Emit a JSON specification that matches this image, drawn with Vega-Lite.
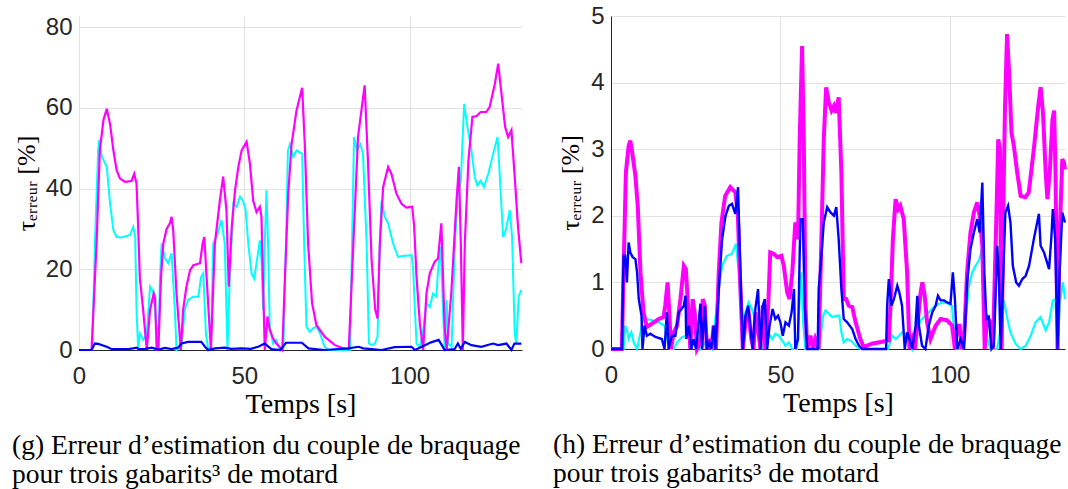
{
  "$schema": "https://vega.github.io/schema/vega-lite/v6.json",
  "background": "white",
  "padding": {"left": 12, "top": 4, "right": 2, "bottom": 5},
  "bounds": "flush",
  "spacing": 89,
  "config": {
    "view": {"stroke": null},
    "axis": {
      "labelFont": "Liberation Sans", "labelFontSize": 24, "labelColor": "#262626",
      "domainColor": "#262626", "domainWidth": 1, "gridColor": "#e2e2e2", "gridWidth": 1,
      "ticks": false, "titleFont": "Liberation Serif", "titleFontWeight": "normal",
      "titleColor": "#000000", "titleFontSize": 28
    }
  },
  "datasets": {
    "g_m": [
      {"t":0,"v":0},{"t":3.8,"v":0},{"t":5.3,"v":26},{"t":6.3,"v":49.5},{"t":7.4,"v":57},{"t":8.4,"v":59.8},{"t":9.4,"v":56},{"t":10.4,"v":49.5},{"t":11.4,"v":44.5},{"t":12.4,"v":42.5},{"t":13.9,"v":41.7},{"t":15.9,"v":41.9},{"t":16.7,"v":43.7},{"t":17.4,"v":41.3},{"t":17.9,"v":30.5},{"t":18.4,"v":18},{"t":19.4,"v":10},{"t":20.5,"v":0},{"t":21.5,"v":10},{"t":22.6,"v":14},{"t":23,"v":13},{"t":23.5,"v":0},{"t":24,"v":0},{"t":24.8,"v":18},{"t":25.5,"v":26.4},{"t":26.5,"v":30},{"t":27.5,"v":31.4},{"t":28,"v":33},{"t":28.5,"v":29.7},{"t":29.5,"v":14},{"t":30.8,"v":0},{"t":31.5,"v":10},{"t":32.5,"v":15.7},{"t":33.6,"v":19.8},{"t":34.6,"v":21},{"t":36.6,"v":21.5},{"t":37.4,"v":26.4},{"t":37.9,"v":28},{"t":38.6,"v":18},{"t":39.9,"v":0},{"t":41.1,"v":26.4},{"t":42.6,"v":37},{"t":43.6,"v":43},{"t":44.6,"v":34.7},{"t":45.3,"v":15.7},{"t":46.2,"v":30.5},{"t":47.2,"v":39.6},{"t":48.2,"v":45.4},{"t":49.2,"v":49.5},{"t":50.7,"v":51.6},{"t":51.7,"v":46.2},{"t":52.7,"v":37},{"t":53.7,"v":34.2},{"t":54.7,"v":35.5},{"t":55.2,"v":33},{"t":55.7,"v":15.7},{"t":56.2,"v":0},{"t":57,"v":8.3},{"t":57.7,"v":5},{"t":58.7,"v":2.9},{"t":59.7,"v":1.6},{"t":61.5,"v":0},{"t":62.3,"v":18},{"t":63.3,"v":38.8},{"t":64.3,"v":51},{"t":65.8,"v":59.4},{"t":67.5,"v":65},{"t":68.3,"v":51},{"t":69.3,"v":26.4},{"t":70.5,"v":11.6},{"t":71.8,"v":6.2},{"t":74.3,"v":3.3},{"t":77.4,"v":1.2},{"t":79.9,"v":0.4},{"t":81.6,"v":0.2},{"t":83,"v":26.4},{"t":84.4,"v":52.8},{"t":86.4,"v":65.6},{"t":87.4,"v":47},{"t":88.5,"v":22.3},{"t":89.6,"v":10},{"t":90.3,"v":7.8},{"t":91,"v":26.4},{"t":92,"v":40.4},{"t":93.5,"v":45.4},{"t":94.5,"v":43.7},{"t":96,"v":38.8},{"t":97.5,"v":36.3},{"t":99,"v":35.3},{"t":100.8,"v":35.5},{"t":101.4,"v":30.5},{"t":102.1,"v":18},{"t":103.1,"v":6.6},{"t":104.1,"v":0},{"t":105.1,"v":14},{"t":106.1,"v":19},{"t":107.6,"v":21.9},{"t":108.6,"v":22.7},{"t":109.6,"v":31.4},{"t":110.6,"v":5.8},{"t":111.2,"v":0},{"t":112.6,"v":14},{"t":114.2,"v":37},{"t":114.9,"v":45.4},{"t":115.5,"v":26.4},{"t":116.1,"v":0},{"t":116.7,"v":26.4},{"t":117.8,"v":47},{"t":119,"v":57.8},{"t":120.3,"v":58},{"t":121.5,"v":59},{"t":123.2,"v":59},{"t":124.2,"v":60.2},{"t":125.8,"v":66},{"t":126.8,"v":71},{"t":127.8,"v":63.5},{"t":128.9,"v":55.3},{"t":129.8,"v":52.8},{"t":130.8,"v":54.5},{"t":131.8,"v":42.9},{"t":132.8,"v":30.5},{"t":133.8,"v":21.5}
    ],
    "g_c": [
      {"t":0,"v":0},{"t":4,"v":0},{"t":4.8,"v":26},{"t":5.8,"v":49.5},{"t":6.1,"v":52},{"t":6.9,"v":47.9},{"t":8.4,"v":45.4},{"t":9.4,"v":36.3},{"t":10.4,"v":29.7},{"t":11.4,"v":28},{"t":12.9,"v":27.9},{"t":15.4,"v":28.5},{"t":16.4,"v":30.5},{"t":17,"v":28},{"t":17.4,"v":10},{"t":17.9,"v":0},{"t":18.4,"v":4.1},{"t":19.4,"v":2.5},{"t":20.5,"v":4.1},{"t":21.5,"v":15.7},{"t":22.5,"v":14.4},{"t":23.5,"v":5},{"t":24,"v":0.5},{"t":24.5,"v":18},{"t":25,"v":26.4},{"t":26,"v":22.7},{"t":27,"v":21.5},{"t":28,"v":24},{"t":29,"v":10},{"t":29.5,"v":0},{"t":31,"v":0.8},{"t":32,"v":10},{"t":33,"v":12.4},{"t":34.6,"v":13.2},{"t":36.1,"v":13.2},{"t":36.9,"v":18},{"t":37.6,"v":19},{"t":38.4,"v":4.1},{"t":39.1,"v":0},{"t":39.9,"v":0.8},{"t":40.6,"v":26.4},{"t":41.6,"v":28},{"t":43.1,"v":32.2},{"t":44.1,"v":26.4},{"t":44.9,"v":0},{"t":45.6,"v":18},{"t":46.7,"v":36.3},{"t":47.7,"v":35.5},{"t":48.7,"v":38},{"t":49.6,"v":37},{"t":50.4,"v":34.7},{"t":51.2,"v":26.4},{"t":52.2,"v":19},{"t":53,"v":17.7},{"t":53.7,"v":21.5},{"t":54.7,"v":27.2},{"t":55.2,"v":22.3},{"t":55.7,"v":10},{"t":56.2,"v":26.4},{"t":56.7,"v":39.6},{"t":57.2,"v":26.4},{"t":57.7,"v":5.8},{"t":58.7,"v":1.6},{"t":59.7,"v":2.4},{"t":60.8,"v":0},{"t":61.8,"v":0.4},{"t":62.6,"v":26.4},{"t":63.2,"v":49.5},{"t":63.8,"v":51},{"t":64.8,"v":47.9},{"t":65.8,"v":49.5},{"t":66.8,"v":49},{"t":67.5,"v":48.7},{"t":68.1,"v":26.4},{"t":68.8,"v":5.8},{"t":69.8,"v":4.5},{"t":70.8,"v":5.4},{"t":71.8,"v":5.8},{"t":72.9,"v":4.1},{"t":74.3,"v":0.8},{"t":75.4,"v":0},{"t":82,"v":0},{"t":82.4,"v":18},{"t":83.2,"v":52.8},{"t":84.1,"v":49.5},{"t":85.1,"v":51},{"t":85.9,"v":48.7},{"t":87,"v":26.4},{"t":87.7,"v":1.6},{"t":88.5,"v":1.2},{"t":89.5,"v":1.6},{"t":90.3,"v":3.3},{"t":91,"v":26.4},{"t":91.5,"v":37},{"t":92.5,"v":33},{"t":93.5,"v":31.4},{"t":95,"v":26.4},{"t":96.5,"v":23.1},{"t":98,"v":23.3},{"t":100.6,"v":23.5},{"t":101.1,"v":19.8},{"t":101.6,"v":10},{"t":102.1,"v":1.6},{"t":103.1,"v":0.8},{"t":104.1,"v":5},{"t":105.1,"v":11.6},{"t":106.1,"v":10.7},{"t":107.1,"v":14},{"t":108.1,"v":13.2},{"t":108.6,"v":19.8},{"t":109.4,"v":25.6},{"t":110.1,"v":10},{"t":110.6,"v":0},{"t":111.2,"v":12.4},{"t":111.7,"v":1.6},{"t":112.7,"v":0.8},{"t":113.7,"v":26.4},{"t":114.5,"v":38},{"t":115.5,"v":42},{"t":116.5,"v":61},{"t":117.5,"v":55.3},{"t":118.7,"v":49.5},{"t":119.7,"v":42.9},{"t":120.5,"v":40.8},{"t":121.5,"v":42},{"t":122.5,"v":40.4},{"t":123.8,"v":43.7},{"t":125.3,"v":48.7},{"t":126.6,"v":52.8},{"t":127.3,"v":42.9},{"t":128.3,"v":28},{"t":129.1,"v":29.7},{"t":130.3,"v":34.7},{"t":131,"v":28},{"t":131.8,"v":4.1},{"t":132.3,"v":1.6},{"t":133,"v":13.2},{"t":133.8,"v":14.9}
    ],
    "g_b": [
      {"t":0,"v":0},{"t":3.8,"v":0},{"t":4.8,"v":1.6},{"t":5.8,"v":1.5},{"t":8.4,"v":0.8},{"t":9.9,"v":0.2},{"t":15,"v":0.2},{"t":17.5,"v":0.6},{"t":18,"v":0.2},{"t":20,"v":0.3},{"t":22,"v":0.6},{"t":24,"v":0.1},{"t":26,"v":0.5},{"t":28,"v":0.2},{"t":30,"v":0.6},{"t":31,"v":1.6},{"t":33,"v":2},{"t":37,"v":2},{"t":38.1,"v":0.8},{"t":39.1,"v":0},{"t":41.1,"v":0.4},{"t":44.1,"v":0.6},{"t":46,"v":0.3},{"t":49.2,"v":0.4},{"t":52,"v":0.3},{"t":54.2,"v":0.8},{"t":56.2,"v":1.6},{"t":58.2,"v":0.2},{"t":60.9,"v":0},{"t":62.6,"v":1.8},{"t":67.4,"v":1.8},{"t":69.4,"v":0.4},{"t":74.3,"v":0},{"t":81.4,"v":0.4},{"t":84.6,"v":0.8},{"t":86,"v":0.4},{"t":88.5,"v":0.2},{"t":91.5,"v":0},{"t":95.5,"v":0.7},{"t":100.6,"v":0.8},{"t":101.6,"v":0},{"t":103.7,"v":0.8},{"t":106.5,"v":1.9},{"t":108.8,"v":2.5},{"t":110.6,"v":0},{"t":113.6,"v":0.2},{"t":114.6,"v":1.6},{"t":115.5,"v":0.3},{"t":116.7,"v":2},{"t":118.7,"v":1.2},{"t":121.7,"v":0.8},{"t":125.2,"v":1.6},{"t":126.8,"v":1.2},{"t":129.3,"v":1.6},{"t":130.8,"v":0},{"t":131.7,"v":1.6},{"t":133.8,"v":1.6}
    ],
    "h_m": [
      {"t":0,"v":0},{"t":3.2,"v":0},{"t":3.7,"v":1.15},{"t":4.4,"v":2.65},{"t":5.2,"v":3.05},{"t":5.7,"v":3.13},{"t":6.4,"v":2.9},{"t":7.2,"v":2.6},{"t":7.9,"v":2.15},{"t":8.7,"v":1.15},{"t":9.6,"v":0.55},{"t":10.6,"v":0.33},{"t":12.1,"v":0.38},{"t":14.1,"v":0.45},{"t":15.5,"v":0.48},{"t":16,"v":0.65},{"t":16.7,"v":1.0},{"t":17.2,"v":0.55},{"t":17.7,"v":0},{"t":18.5,"v":0.25},{"t":19.5,"v":0.35},{"t":20.5,"v":0.75},{"t":21.5,"v":1.25},{"t":22.1,"v":1.2},{"t":23,"v":0.4},{"t":23.4,"v":0},{"t":24.1,"v":0.75},{"t":24.7,"v":0.55},{"t":25.4,"v":0},{"t":26.4,"v":0.1},{"t":27.1,"v":0.75},{"t":27.7,"v":0.65},{"t":28.3,"v":0},{"t":29,"v":0.15},{"t":29.6,"v":0},{"t":30.3,"v":0.35},{"t":31,"v":0},{"t":31.8,"v":1.15},{"t":32.6,"v":1.9},{"t":33.7,"v":2.3},{"t":35.2,"v":2.43},{"t":36.7,"v":2.35},{"t":37.4,"v":2.05},{"t":38.2,"v":0.9},{"t":38.9,"v":0},{"t":39.7,"v":0.4},{"t":40.5,"v":0.6},{"t":41.4,"v":0.15},{"t":42.1,"v":0},{"t":42.6,"v":0.55},{"t":43.4,"v":0.3},{"t":44.1,"v":0},{"t":44.8,"v":0.65},{"t":45.6,"v":0},{"t":46.4,"v":0.65},{"t":47,"v":1.45},{"t":48,"v":1.43},{"t":49,"v":1.38},{"t":50.3,"v":1.4},{"t":51,"v":1.25},{"t":52,"v":0.85},{"t":52.7,"v":0.75},{"t":53.5,"v":1.15},{"t":54.4,"v":1.9},{"t":55.2,"v":1.65},{"t":55.7,"v":3.15},{"t":56.4,"v":4.55},{"t":56.9,"v":3.15},{"t":57.4,"v":0.65},{"t":57.9,"v":0},{"t":58.9,"v":0.2},{"t":59.6,"v":0},{"t":60.3,"v":0.15},{"t":61.3,"v":0},{"t":62.1,"v":1.65},{"t":62.8,"v":3.15},{"t":63.5,"v":3.93},{"t":64.3,"v":3.7},{"t":65.1,"v":3.58},{"t":65.8,"v":3.65},{"t":66.4,"v":3.55},{"t":67.2,"v":3.78},{"t":68,"v":2.65},{"t":68.7,"v":0.75},{"t":69.4,"v":0.75},{"t":70.2,"v":0.65},{"t":71.2,"v":0.63},{"t":72.2,"v":0.4},{"t":73.6,"v":0.15},{"t":74.6,"v":0.03},{"t":77,"v":0.08},{"t":80,"v":0.11},{"t":82,"v":0.13},{"t":82.5,"v":0.65},{"t":83.2,"v":1.65},{"t":84,"v":2.25},{"t":84.8,"v":2.1},{"t":85.4,"v":2.15},{"t":86.4,"v":1.95},{"t":87.4,"v":1.15},{"t":88.1,"v":0},{"t":88.9,"v":0.15},{"t":89.7,"v":0},{"t":90.7,"v":0.5},{"t":91.4,"v":0.85},{"t":91.9,"v":1.0},{"t":92.6,"v":0.8},{"t":93.3,"v":0.4},{"t":94.3,"v":0.15},{"t":95.8,"v":0.35},{"t":97.3,"v":0.45},{"t":99.2,"v":0.43},{"t":100.7,"v":0.35},{"t":101.5,"v":0},{"t":102.2,"v":0.35},{"t":102.9,"v":0.35},{"t":103.5,"v":0},{"t":104.2,"v":0.15},{"t":105.1,"v":1.15},{"t":106.1,"v":1.75},{"t":107.1,"v":2.05},{"t":108.1,"v":2.2},{"t":108.8,"v":2.0},{"t":109.6,"v":1.55},{"t":110.3,"v":0},{"t":111,"v":0.48},{"t":112,"v":0.4},{"t":112.7,"v":0},{"t":113.7,"v":1.9},{"t":114.3,"v":3.15},{"t":114.8,"v":3.0},{"t":115.3,"v":0},{"t":115.8,"v":2.15},{"t":116.3,"v":3.65},{"t":116.9,"v":4.73},{"t":117.5,"v":4.15},{"t":118.2,"v":3.25},{"t":118.9,"v":3.05},{"t":119.9,"v":2.65},{"t":120.9,"v":2.3},{"t":122.3,"v":2.28},{"t":123.3,"v":2.35},{"t":124.8,"v":3.0},{"t":126.1,"v":3.65},{"t":126.8,"v":3.93},{"t":127.5,"v":3.55},{"t":128.3,"v":2.65},{"t":128.8,"v":2.25},{"t":129.5,"v":2.65},{"t":130.3,"v":3.45},{"t":130.8,"v":3.58},{"t":131.2,"v":2.65},{"t":131.8,"v":0},{"t":132.4,"v":1.65},{"t":133.2,"v":2.85},{"t":133.7,"v":2.8},{"t":134,"v":2.7}
    ],
    "h_b": [
      {"t":0,"v":0},{"t":3.2,"v":0},{"t":3.7,"v":1.4},{"t":4.2,"v":1.4},{"t":4.7,"v":1.0},{"t":5.2,"v":1.6},{"t":5.7,"v":1.45},{"t":6.4,"v":1.38},{"t":7.2,"v":1.35},{"t":7.7,"v":1.15},{"t":8.2,"v":0.75},{"t":9,"v":0.5},{"t":9.3,"v":0},{"t":9.9,"v":0.35},{"t":10.6,"v":0.2},{"t":11.6,"v":0.23},{"t":13.1,"v":0.18},{"t":15,"v":0.15},{"t":15.8,"v":0},{"t":16.5,"v":0.55},{"t":17,"v":0},{"t":18,"v":0.2},{"t":19,"v":0.2},{"t":20,"v":0.55},{"t":20.8,"v":0.6},{"t":21.5,"v":0.65},{"t":22,"v":0.8},{"t":22.2,"v":0.15},{"t":23,"v":0.35},{"t":23.7,"v":0},{"t":24.4,"v":0.15},{"t":25.1,"v":0},{"t":26.4,"v":0.68},{"t":26.9,"v":0},{"t":27.7,"v":0.65},{"t":28.3,"v":0},{"t":29,"v":0.1},{"t":29.6,"v":0},{"t":30.3,"v":0.35},{"t":30.8,"v":0},{"t":31.8,"v":0.9},{"t":32.8,"v":1.65},{"t":33.8,"v":2.0},{"t":34.8,"v":2.15},{"t":35.7,"v":2.18},{"t":36.7,"v":2.03},{"t":37.5,"v":2.43},{"t":38.2,"v":1.15},{"t":38.9,"v":0},{"t":39.7,"v":0.5},{"t":40.5,"v":0.65},{"t":41.1,"v":0.35},{"t":41.8,"v":0},{"t":42.6,"v":0.6},{"t":43.4,"v":0.9},{"t":44.1,"v":0},{"t":44.8,"v":0.65},{"t":45.4,"v":0.75},{"t":46.1,"v":0},{"t":46.8,"v":0.35},{"t":47.7,"v":0.6},{"t":48.5,"v":0.45},{"t":49.3,"v":0.5},{"t":50,"v":0.4},{"t":50.7,"v":0.2},{"t":51.5,"v":0.4},{"t":52.5,"v":0.35},{"t":53.3,"v":0.55},{"t":54,"v":0.9},{"t":54.4,"v":0},{"t":55.2,"v":0.15},{"t":55.9,"v":1.95},{"t":56.6,"v":1.95},{"t":57.2,"v":0.65},{"t":57.9,"v":0},{"t":61,"v":0},{"t":61.3,"v":0.9},{"t":62.1,"v":1.4},{"t":62.8,"v":1.9},{"t":63.8,"v":2.13},{"t":64.8,"v":2.05},{"t":65.8,"v":2.0},{"t":66.5,"v":2.13},{"t":67.2,"v":1.65},{"t":68,"v":0.9},{"t":68.7,"v":0.45},{"t":69.7,"v":0.4},{"t":71.2,"v":0.3},{"t":72.2,"v":0.15},{"t":73.2,"v":0.05},{"t":74.1,"v":0},{"t":81.2,"v":0},{"t":81.5,"v":0.65},{"t":82,"v":1.05},{"t":82.8,"v":0.65},{"t":83.5,"v":0.75},{"t":84.5,"v":0.95},{"t":85.1,"v":0.85},{"t":85.9,"v":0.65},{"t":86.7,"v":0},{"t":87.4,"v":0.25},{"t":88.1,"v":0.15},{"t":88.9,"v":0},{"t":89.9,"v":0.35},{"t":90.4,"v":0.8},{"t":90.9,"v":0.35},{"t":91.8,"v":0.05},{"t":92.8,"v":0},{"t":93.8,"v":0.35},{"t":94.8,"v":0.55},{"t":95.8,"v":0.65},{"t":96.5,"v":0.8},{"t":97.3,"v":0.73},{"t":98.3,"v":0.73},{"t":99.2,"v":0.7},{"t":100.2,"v":0.68},{"t":100.9,"v":1.15},{"t":101.5,"v":0.75},{"t":102.2,"v":0},{"t":103.2,"v":0.15},{"t":104.2,"v":0},{"t":105.1,"v":1.0},{"t":106.1,"v":1.5},{"t":107.1,"v":1.75},{"t":108.1,"v":1.95},{"t":108.8,"v":1.75},{"t":109.6,"v":2.5},{"t":110.2,"v":1.15},{"t":110.8,"v":0.45},{"t":111.5,"v":0.48},{"t":112.3,"v":0},{"t":113,"v":0.05},{"t":114,"v":1.55},{"t":114.5,"v":1.05},{"t":115,"v":0},{"t":115.8,"v":1.15},{"t":116.4,"v":2.05},{"t":117.2,"v":2.15},{"t":117.9,"v":1.9},{"t":118.6,"v":1.25},{"t":119.6,"v":1.0},{"t":120.4,"v":0.95},{"t":121.4,"v":1.05},{"t":122.4,"v":1.1},{"t":123.4,"v":1.25},{"t":124.8,"v":1.65},{"t":126.3,"v":2.03},{"t":126.8,"v":1.55},{"t":127.8,"v":1.45},{"t":128.7,"v":1.3},{"t":129.3,"v":1.2},{"t":130,"v":1.7},{"t":130.4,"v":2.1},{"t":131.1,"v":1.65},{"t":131.8,"v":0},{"t":132.4,"v":1.15},{"t":133.2,"v":2.05},{"t":134,"v":1.9}
    ],
    "h_c": [
      {"t":0,"v":0},{"t":3.7,"v":0},{"t":4.2,"v":0.35},{"t":4.7,"v":0.28},{"t":5.2,"v":0.15},{"t":6,"v":0.25},{"t":6.7,"v":0.1},{"t":7.7,"v":0},{"t":8.7,"v":0.25},{"t":9.6,"v":0.48},{"t":10.6,"v":0.45},{"t":12.1,"v":0.43},{"t":14.1,"v":0.4},{"t":15.8,"v":0.35},{"t":16.5,"v":0.15},{"t":17.5,"v":0},{"t":18.5,"v":0},{"t":19.5,"v":0.1},{"t":21,"v":0.18},{"t":22.4,"v":0.2},{"t":23.4,"v":0.15},{"t":24.4,"v":0.25},{"t":25.4,"v":0.35},{"t":26.4,"v":0},{"t":27.9,"v":0.1},{"t":29.8,"v":0},{"t":31.8,"v":0.9},{"t":32.8,"v":1.25},{"t":34.2,"v":1.4},{"t":35.7,"v":1.43},{"t":36.9,"v":1.58},{"t":37.7,"v":1.15},{"t":38.7,"v":0.4},{"t":39.7,"v":0.55},{"t":40.6,"v":0.7},{"t":41.6,"v":0.6},{"t":42.6,"v":0.45},{"t":43.6,"v":0.35},{"t":44.6,"v":0},{"t":45.6,"v":0.15},{"t":46.6,"v":0.23},{"t":47.6,"v":0.15},{"t":48.5,"v":0.23},{"t":49.5,"v":0.2},{"t":50.5,"v":0.13},{"t":51.5,"v":0.05},{"t":52.5,"v":0.1},{"t":53.5,"v":0},{"t":54.9,"v":0},{"t":55.6,"v":0.65},{"t":56.2,"v":1.15},{"t":56.7,"v":0.4},{"t":57.4,"v":0},{"t":61.5,"v":0},{"t":61.8,"v":0.15},{"t":62.6,"v":0.5},{"t":63.3,"v":0.58},{"t":64.3,"v":0.53},{"t":65.3,"v":0.48},{"t":66.8,"v":0.5},{"t":67.4,"v":0.5},{"t":68,"v":0.25},{"t":68.7,"v":0.1},{"t":69.7,"v":0.15},{"t":70.7,"v":0.13},{"t":72.2,"v":0.05},{"t":73.6,"v":0},{"t":81.8,"v":0},{"t":83,"v":0.2},{"t":84,"v":0.15},{"t":85,"v":0.2},{"t":85.9,"v":0.25},{"t":87.4,"v":0.2},{"t":88.9,"v":0},{"t":90.4,"v":0.3},{"t":91.4,"v":0.43},{"t":92.4,"v":0.48},{"t":93.8,"v":0.55},{"t":95.2,"v":0.63},{"t":96.8,"v":0.68},{"t":98.2,"v":0.7},{"t":99.6,"v":0.68},{"t":100.6,"v":0.65},{"t":101.2,"v":0.35},{"t":101.9,"v":0},{"t":103.7,"v":0},{"t":104.6,"v":0.35},{"t":105.5,"v":0.9},{"t":106.6,"v":1.15},{"t":107.6,"v":1.25},{"t":108.6,"v":1.33},{"t":109.4,"v":1.48},{"t":110.1,"v":0.65},{"t":111.1,"v":0.15},{"t":112,"v":0},{"t":114,"v":0},{"t":115,"v":0.3},{"t":116,"v":0.73},{"t":117,"v":0.45},{"t":117.9,"v":0.25},{"t":119.4,"v":0.08},{"t":120.9,"v":0},{"t":122.4,"v":0.05},{"t":123.9,"v":0.2},{"t":125.3,"v":0.4},{"t":126.8,"v":0.48},{"t":128.3,"v":0.28},{"t":129.3,"v":0.4},{"t":130.4,"v":0.73},{"t":131.2,"v":0.75},{"t":131.8,"v":0},{"t":132.5,"v":0.7},{"t":133.4,"v":1.0},{"t":134,"v":0.75}
    ]
  },
  "hconcat": [
    {
      "width": 443,
      "height": 334,
      "title": {
        "text": ["(g) Erreur d’estimation du couple de braquage", "pour trois gabarits³ de motard"],
        "orient": "bottom", "anchor": "start", "frame": "group", "dx": -67, "offset": 14,
        "font": "Liberation Serif", "fontSize": 27.5, "fontWeight": "normal", "lineHeight": 29, "color": "#000000"
      },
      "encoding": {
        "x": {"field": "t", "type": "quantitative", "scale": {"domain": [0, 134], "nice": false},
              "axis": {"title": "Temps [s]", "values": [0, 50, 100], "labelPadding": 14, "titlePadding": 2, "labelFlush": false}},
        "y": {"field": "v", "type": "quantitative", "scale": {"domain": [0, 82.8], "nice": false},
              "axis": {"title": "τₑᵣᵣₑᵤᵣ  [%]", "titleFontSize": 26, "values": [0, 20, 40, 60, 80], "domain": false, "labelPadding": 7, "titlePadding": 6}}
      },
      "layer": [
        {"data": {"values": [{}]}, "mark": {"type": "rule", "color": "#262626", "strokeWidth": 1},
         "encoding": {"x": {"datum": 0}, "y": {"datum": 0}, "y2": {"datum": 80}}},
        {"data": {"name": "g_c"}, "mark": {"type": "line", "color": "#00ffff", "strokeWidth": 2}},
        {"data": {"name": "g_m"}, "mark": {"type": "line", "color": "#ff00ff", "strokeWidth": 2.2}},
        {"data": {"name": "g_b"}, "mark": {"type": "line", "color": "#0000ff", "strokeWidth": 2.2}}
      ]
    },
    {
      "width": 454,
      "height": 333,
      "title": {
        "text": ["(h) Erreur d’estimation du couple de braquage", "pour trois gabarits³ de motard"],
        "orient": "bottom", "anchor": "start", "frame": "group", "dx": -58, "offset": 14,
        "font": "Liberation Serif", "fontSize": 27.5, "fontWeight": "normal", "lineHeight": 29, "color": "#000000"
      },
      "encoding": {
        "x": {"field": "t", "type": "quantitative", "scale": {"domain": [0, 134], "nice": false},
              "axis": {"title": "Temps [s]", "values": [0, 50, 100], "labelPadding": 14, "titlePadding": 2, "labelFlush": false}},
        "y": {"field": "v", "type": "quantitative", "scale": {"domain": [0, 5], "nice": false},
              "axis": {"title": "τₑᵣᵣₑᵤᵣ  [%]", "titleFontSize": 26, "values": [0, 1, 2, 3, 4, 5], "labelPadding": 7, "titlePadding": 7}}
      },
      "layer": [
        {"data": {"name": "h_c"}, "mark": {"type": "line", "color": "#00ffff", "strokeWidth": 2.2}},
        {"data": {"name": "h_m"}, "mark": {"type": "line", "color": "#ff00ff", "strokeWidth": 4}},
        {"data": {"name": "h_b"}, "mark": {"type": "line", "color": "#0000ff", "strokeWidth": 2.4}}
      ]
    }
  ]
}
